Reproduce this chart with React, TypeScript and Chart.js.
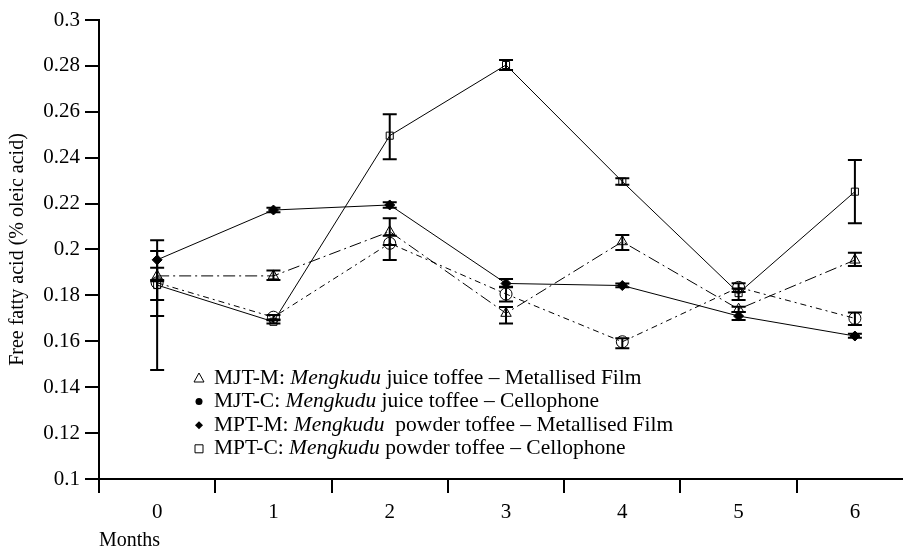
import React, { useEffect, useRef } from "react";
import { Chart, registerables } from "chart.js";

Chart.register(...registerables);

// ---------- data ----------
const months = [0, 1, 2, 3, 4, 5, 6];
const yTickValues = [0.1, 0.12, 0.14, 0.16, 0.18, 0.2, 0.22, 0.24, 0.26, 0.28, 0.3];

// MJT-M (open triangle, dash-dot)
const mjtM = [0.1885, 0.1885, 0.2078, 0.1722, 0.2034, 0.174, 0.1954];
const mjtMLow = [0.171, 0.1867, 0.202, 0.1678, 0.1998, 0.1728, 0.1928];
const mjtMHigh = [0.1994, 0.1908, 0.2136, 0.175, 0.2063, 0.1751, 0.1986];

// MJT-C (open circle, dashed)
const mjtC = [0.1855, 0.1705, 0.2027, 0.1806, 0.1598, 0.1835, 0.17];
const mjtCLow = [0.178, 0.1695, 0.1954, 0.1773, 0.157, 0.1815, 0.1671];
const mjtCHigh = [0.192, 0.1715, 0.206, 0.1838, 0.1613, 0.1853, 0.1725];

// MPT-M (filled diamond, solid)
const mptM = [0.1955, 0.2172, 0.2194, 0.1852, 0.1843, 0.171, 0.1623];
const mptMLow = [0.1867, 0.2162, 0.2182, 0.1835, 0.1835, 0.1693, 0.1615];
const mptMHigh = [0.204, 0.2182, 0.2206, 0.1872, 0.1852, 0.1728, 0.1633];

// MPT-C (open square, solid)
const mptC = [0.1845, 0.1685, 0.2496, 0.2804, 0.2296, 0.181, 0.2252];
const mptCLow = [0.1475, 0.1678, 0.2393, 0.2782, 0.2282, 0.178, 0.2114];
const mptCHigh = [0.1862, 0.1692, 0.2589, 0.2826, 0.2311, 0.183, 0.239];

const legendPrefix = ["MJT-M: ", "MJT-C: ", "MPT-M: ", "MPT-C: "];
const legendItalic = ["Mengkudu", "Mengkudu", "Mengkudu", "Mengkudu"];
const legendSuffix = [
  " juice toffee – Metallised Film",
  " juice toffee – Cellophone",
  "  powder toffee – Metallised Film",
  " powder toffee – Cellophone",
];
const legendMarkers = ["triangle", "circle", "diamond", "square"];

const yTitle = "Free fatty acid (% oleic acid)";
const xTitle = "Months";

const FONT = "'Liberation Serif', 'DejaVu Serif', serif";

const toPts = (vals: number[]) => months.map((m, i) => ({ x: m, y: vals[i] }));

const errorBarPlugin = {
  id: "errorBars",
  afterDatasetsDraw(chart: any) {
    const ctx = chart.ctx;
    const ys = chart.scales.y;
    ctx.save();
    ctx.strokeStyle = "#000";
    ctx.lineWidth = 2;
    chart.data.datasets.forEach((ds: any, di: number) => {
      const meta = chart.getDatasetMeta(di);
      meta.data.forEach((pt: any, i: number) => {
        const x = pt.x;
        const yl = ys.getPixelForValue(ds.errLow[i]);
        const yh = ys.getPixelForValue(ds.errHigh[i]);
        const cw = 7;
        ctx.beginPath();
        ctx.moveTo(x, yl);
        ctx.lineTo(x, yh);
        ctx.moveTo(x - cw, yl);
        ctx.lineTo(x + cw, yl);
        ctx.moveTo(x - cw, yh);
        ctx.lineTo(x + cw, yh);
        ctx.stroke();
      });
    });
    ctx.restore();
  },
};

const legendPlugin = {
  id: "customLegend",
  afterDraw(chart: any) {
    const ctx = chart.ctx;
    ctx.save();
    const mx = 199;
    const tx = 214;
    const y0 = 378;
    const dy = 23.6;
    const size = 21.5;
    ctx.textBaseline = "middle";
    ctx.fillStyle = "#000";
    ctx.strokeStyle = "#000";
    ctx.lineWidth = 1;
    legendPrefix.forEach((p, i) => {
      const y = y0 + dy * i;
      const m = legendMarkers[i];
      ctx.beginPath();
      if (m === "triangle") {
        ctx.moveTo(mx, y - 5);
        ctx.lineTo(mx + 5, y + 4);
        ctx.lineTo(mx - 5, y + 4);
        ctx.closePath();
        ctx.stroke();
      } else if (m === "circle") {
        ctx.arc(mx, y, 3.5, 0, Math.PI * 2);
        ctx.fill();
      } else if (m === "diamond") {
        ctx.moveTo(mx, y - 4);
        ctx.lineTo(mx + 4, y);
        ctx.lineTo(mx, y + 4);
        ctx.lineTo(mx - 4, y);
        ctx.closePath();
        ctx.fill();
      } else {
        ctx.rect(mx - 4, y - 4, 8, 8);
        ctx.stroke();
      }
      let x = tx;
      ctx.font = `${size}px ${FONT}`;
      ctx.fillText(p, x, y);
      x += ctx.measureText(p).width;
      ctx.font = `italic ${size}px ${FONT}`;
      ctx.fillText(legendItalic[i], x, y);
      x += ctx.measureText(legendItalic[i]).width;
      ctx.font = `${size}px ${FONT}`;
      ctx.fillText(legendSuffix[i], x, y);
    });
    ctx.restore();
  },
};

export default function App() {
  const ref = useRef<HTMLCanvasElement | null>(null);
  useEffect(() => {
    if (!ref.current) return;
    const common = {
      borderColor: "#000",
      borderWidth: 1,
      pointBorderColor: "#000",
      pointBorderWidth: 1,
      tension: 0,
      fill: false,
      clip: false as any,
    };
    const chart = new Chart(ref.current, {
      type: "line",
      data: {
        datasets: [
          {
            ...common,
            label: "MJT-M",
            data: toPts(mjtM),
            borderDash: [12, 4, 2, 4],
            pointStyle: "triangle",
            pointRadius: 6,
            pointBackgroundColor: "rgba(0,0,0,0)",
            errLow: mjtMLow,
            errHigh: mjtMHigh,
          } as any,
          {
            ...common,
            label: "MJT-C",
            data: toPts(mjtC),
            borderDash: [6, 4, 2, 4],
            pointStyle: "circle",
            pointRadius: 6,
            pointBackgroundColor: "rgba(0,0,0,0)",
            errLow: mjtCLow,
            errHigh: mjtCHigh,
          } as any,
          {
            ...common,
            label: "MPT-M",
            data: toPts(mptM),
            pointStyle: "rectRot",
            pointRadius: 5,
            pointBackgroundColor: "#000",
            errLow: mptMLow,
            errHigh: mptMHigh,
          } as any,
          {
            ...common,
            label: "MPT-C",
            data: toPts(mptC),
            pointStyle: "rect",
            pointRadius: 5,
            pointBackgroundColor: "rgba(0,0,0,0)",
            errLow: mptCLow,
            errHigh: mptCHigh,
          } as any,
        ],
      },
      options: {
        animation: false,
        responsive: false,
        events: [],
        layout: { padding: { top: 20, right: 0, left: 0, bottom: 0 } },
        plugins: {
          legend: { display: false },
          tooltip: { enabled: false },
        },
        scales: {
          x: {
            type: "linear",
            min: -0.5,
            max: 6.405,
            afterBuildTicks: (s: any) => {
              s.ticks = months.map((v) => ({ value: v }));
            },
            afterFit: (s: any) => {
              s.height = 70;
            },
            ticks: {
              autoSkip: false,
              maxRotation: 0,
              padding: 7,
              color: "#000",
              font: { family: FONT, size: 21 },
              callback: (v: any) => String(v),
            },
            grid: {
              offset: true,
              drawOnChartArea: false,
              drawTicks: true,
              tickLength: 14,
              color: "#000",
              lineWidth: 2,
            },
            border: { display: true, color: "#000", width: 2 },
            title: {
              display: true,
              text: xTitle,
              align: "start",
              color: "#000",
              font: { family: FONT, size: 20 },
              padding: { top: 0, bottom: -4 },
            },
          },
          y: {
            type: "linear",
            min: 0.1,
            max: 0.3,
            afterBuildTicks: (s: any) => {
              s.ticks = yTickValues.map((v) => ({ value: v }));
            },
            afterFit: (s: any) => {
              s.width = 99;
            },
            ticks: {
              padding: 5,
              color: "#000",
              font: { family: FONT, size: 21 },
              callback: (v: any) => String(Number(Number(v).toFixed(2))),
            },
            grid: {
              drawOnChartArea: false,
              drawTicks: true,
              tickLength: 14,
              color: "#000",
              lineWidth: 2,
            },
            border: { display: true, color: "#000", width: 2 },
            title: {
              display: true,
              text: yTitle,
              color: "#000",
              font: { family: FONT, size: 20 },
              padding: { top: 6, bottom: 0 },
            },
          },
        },
      } as any,
      plugins: [errorBarPlugin, legendPlugin],
    });
    return () => chart.destroy();
  }, []);
  return (
    <div style={{ position: "absolute", left: 0, top: 0, width: 909, height: 549, background: "#fff" }}>
      <canvas ref={ref} width={909} height={549} style={{ display: "block" }} />
    </div>
  );
}
